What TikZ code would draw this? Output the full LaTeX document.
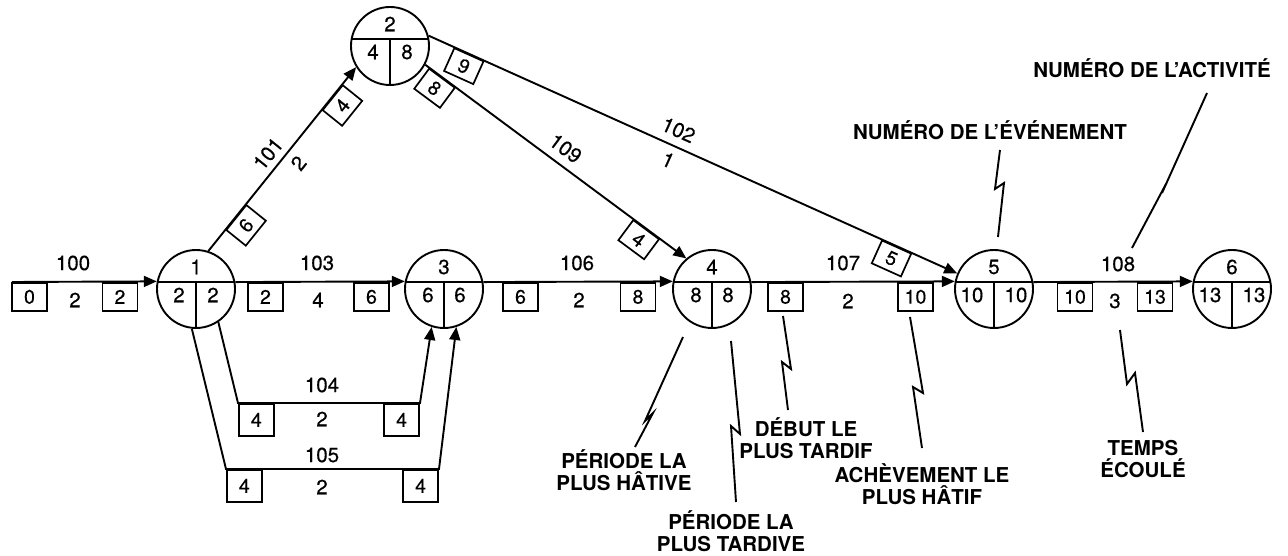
\documentclass[tikz,border=0pt]{standalone}
\usepackage{fontspec}
\setmainfont{TeX Gyre Heros}
\newfontfamily\medfont[FakeBold=0.4]{TeX Gyre Heros}
\usetikzlibrary{arrows.meta,calc}
\tikzset{
  ln/.style={line width=1.9pt},
  arr/.style={ln,-{Triangle[length=13pt,width=11pt]}},
  evt/.style={circle,draw,line width=1.9pt,minimum size=78pt,inner sep=0pt},
  num/.style={font=\medfont\fontsize{20.5}{22}\selectfont,inner sep=0pt},
  lbl/.style={font=\bfseries\fontsize{20.5}{22.5}\selectfont,align=center,inner sep=0pt},
  hbox/.style={draw,line width=1.7pt,minimum width=35pt,minimum height=28pt,inner sep=0pt,anchor=north,font=\medfont\fontsize{19.5}{22}\selectfont},
  lbox/.style={hbox,minimum height=32pt},
  dbox/.style={hbox,minimum width=32pt,minimum height=25pt,sloped},
  lead/.style={line width=1.9pt,line join=miter},
}
\newcommand\eventnode[7]{%
  \node[evt] (#1) at (#2,#3) {};
  \draw[ln] ($(#1.center)+(-38.4,-7)$) -- ($(#1.center)+(38.4,-7)$);
  \draw[ln] ($(#1.center)+(0,-7)$) -- (#1.south);
  \node[num] (#1t) at ($(#1.center)+(0,-22)$) {#4};
  \node[num] (#1l) at ($(#1.center)+(-#7,6)$) {#5};
  \node[num] (#1r) at ($(#1.center)+(#7,6)$) {#6};
}
\begin{document}
\begin{tikzpicture}[x=1pt,y=-1pt]
\useasboundingbox (0,0) rectangle (1288,556);

% events
\eventnode{n1}{196}{289}{1}{2}{2}{17}
\eventnode{n2}{390}{46}{2}{4}{8}{17}
\eventnode{n3}{444}{289}{3}{6}{6}{16}
\eventnode{n4}{712}{289}{4}{8}{8}{16}
\eventnode{n5}{994}{289}{5}{10}{10}{22}
\eventnode{n6}{1232}{289}{6}{13}{13}{22}

% main line
\coordinate (s0) at (12,282);
\draw[arr] (s0) -- (n1.169.66);
\draw[arr] (n1.10.34) -- (n3.169.66);
\draw[arr] (n3.10.34) -- (n4.169.66);
\draw[arr] (n4.10.34) -- (n5.169.66);
\draw[arr] (n5.10.34) -- (n6.169.66);

% boxes on main line
\node[hbox] (b1) at (29.5,282) {0};
\node[hbox] (b2) at (120,282) {2};
\node[hbox] (b3) at (265.5,282) {2};
\node[hbox] (b4) at (371.5,282) {6};
\node[hbox] (b5) at (520.5,282) {6};
\node[hbox] (b6) at (638,282) {8};
\node[hbox] (b7) at (785.5,282) {8};
\node[hbox] (b8) at (915.5,282) {10};
\node[hbox] (b9) at (1075,282) {10};
\node[hbox] (b10) at (1155,282) {13};

% activity numbers and durations on main line
\node[num] (a100) at (73,263) {100};
\node[num] (d100) at (75,300) {2};
\node[num] (a103) at (317,263) {103};
\node[num] (d103) at (318,300) {4};
\node[num] (a106) at (577,263) {106};
\node[num] (d106) at (579,300) {2};
\node[num] (a107) at (843,263) {107};
\node[num] (d107) at (848,301) {2};
\node[num] (a108) at (1118,264) {108};
\node[num] (d108) at (1115,301) {3};

% lower activities 104 and 105
\coordinate (p104a) at (238,403);
\coordinate (p104b) at (420,403);
\coordinate (p105a) at (226,469);
\coordinate (p105b) at (439,469);
\draw[arr] (n1.-56) -- (p104a) -- (p104b) -- (n3.-108);
\draw[arr] (n1.-96) -- (p105a) -- (p105b) -- (n3.-72.5);
\node[lbox,anchor=north west] (b11) at (p104a) {4};
\node[lbox,anchor=north east] (b12) at (p104b) {4};
\node[lbox,anchor=north west] (b13) at (p105a) {4};
\node[lbox,anchor=north east] (b14) at (p105b) {4};
\node[num] (a104) at (322,385) {104};
\node[num] (d104) at (322,419) {2};
\node[num] (a105) at (322,455) {105};
\node[num] (d105) at (322,487) {2};

% diagonal activities
\draw[arr] (n1.72) -- (n2.212.5)
  node[dbox,pos=0.185] (b15) {6}
  node[dbox,pos=0.837] (b16) {4}
  node[num,sloped,above=6pt,pos=0.48] (a101) {101}
  node[num,sloped,below=7pt,pos=0.53] (d101) {2};
\draw[arr] (n2.15) -- (n5.157.7)
  node[dbox,pos=0.077] (b17) {9}
  node[dbox,pos=0.886] (b18) {5}
  node[num,sloped,above=8pt,pos=0.46] (a102) {102}
  node[num,sloped,below=7pt,pos=0.465] (d102) {1};
\draw[arr] (n2.-28) -- (n4.130.6)
  node[dbox,pos=0.066] (b19) {8}
  node[dbox,pos=0.848] (b20) {4}
  node[num,sloped,above=8pt,pos=0.5] (a109) {109};

% explanatory labels and leaders
\node[lbl] (lHat) at (624,470) {PÉRIODE LA\\PLUS HÂTIVE};
\coordinate (hA) at (683,337); \coordinate (hB) at (645,421);
\coordinate (hC) at (653,413); \coordinate (hD) at (635,447);
\draw[lead] (hA) -- (hB) -- (hC) -- (hD);

\node[lbl] (lTar) at (731,531) {PÉRIODE LA\\PLUS TARDIVE};
\coordinate (tA) at (731,341); \coordinate (tB) at (740,434);
\coordinate (tC) at (731,426); \coordinate (tD) at (736,502);
\draw[lead] (tA) -- (tB) -- (tC) -- (tD);

\node[lbl] (lDeb) at (806,438) {DÉBUT LE\\PLUS TARDIF};
\coordinate (dA) at (783,316); \coordinate (dB) at (791,369);
\coordinate (dC) at (782,362); \coordinate (dD) at (788,410);
\draw[lead] (dA) -- (dB) -- (dC) -- (dD);

\node[lbl] (lAch) at (922,484) {ACHÈVEMENT LE\\PLUS HÂTIF};
\coordinate (aA) at (910,317); \coordinate (aB) at (923,393);
\coordinate (aC) at (913,387); \coordinate (aD) at (922,448);
\draw[lead] (aA) -- (aB) -- (aC) -- (aD);

\node[lbl] (lTem) at (1143,459) {TEMPS\\ÉCOULÉ};
\coordinate (eA) at (1120,330); \coordinate (eB) at (1127,384);
\coordinate (eC) at (1135,373); \coordinate (eD) at (1143,432);
\draw[lead] (eA) -- (eB) -- (eC) -- (eD);

\node[lbl] (lEve) at (990,130) {NUMÉRO DE L’ÉVÉNEMENT};
\coordinate (vA) at (1000,150); \coordinate (vB) at (995,189);
\coordinate (vC) at (1004,183); \coordinate (vD) at (998,237);
\draw[lead] (vA) -- (vB) -- (vC) -- (vD);

\node[lbl] (lAct) at (1152,68) {NUMÉRO DE L’ACTIVITÉ};
\coordinate (cA) at (1207,93); \coordinate (cB) at (1162,193);
\coordinate (cC) at (1167,182); \coordinate (cD) at (1132,248);
\draw[lead] (cA) -- (cB) -- (cC) -- (cD);
\end{tikzpicture}
\end{document}
